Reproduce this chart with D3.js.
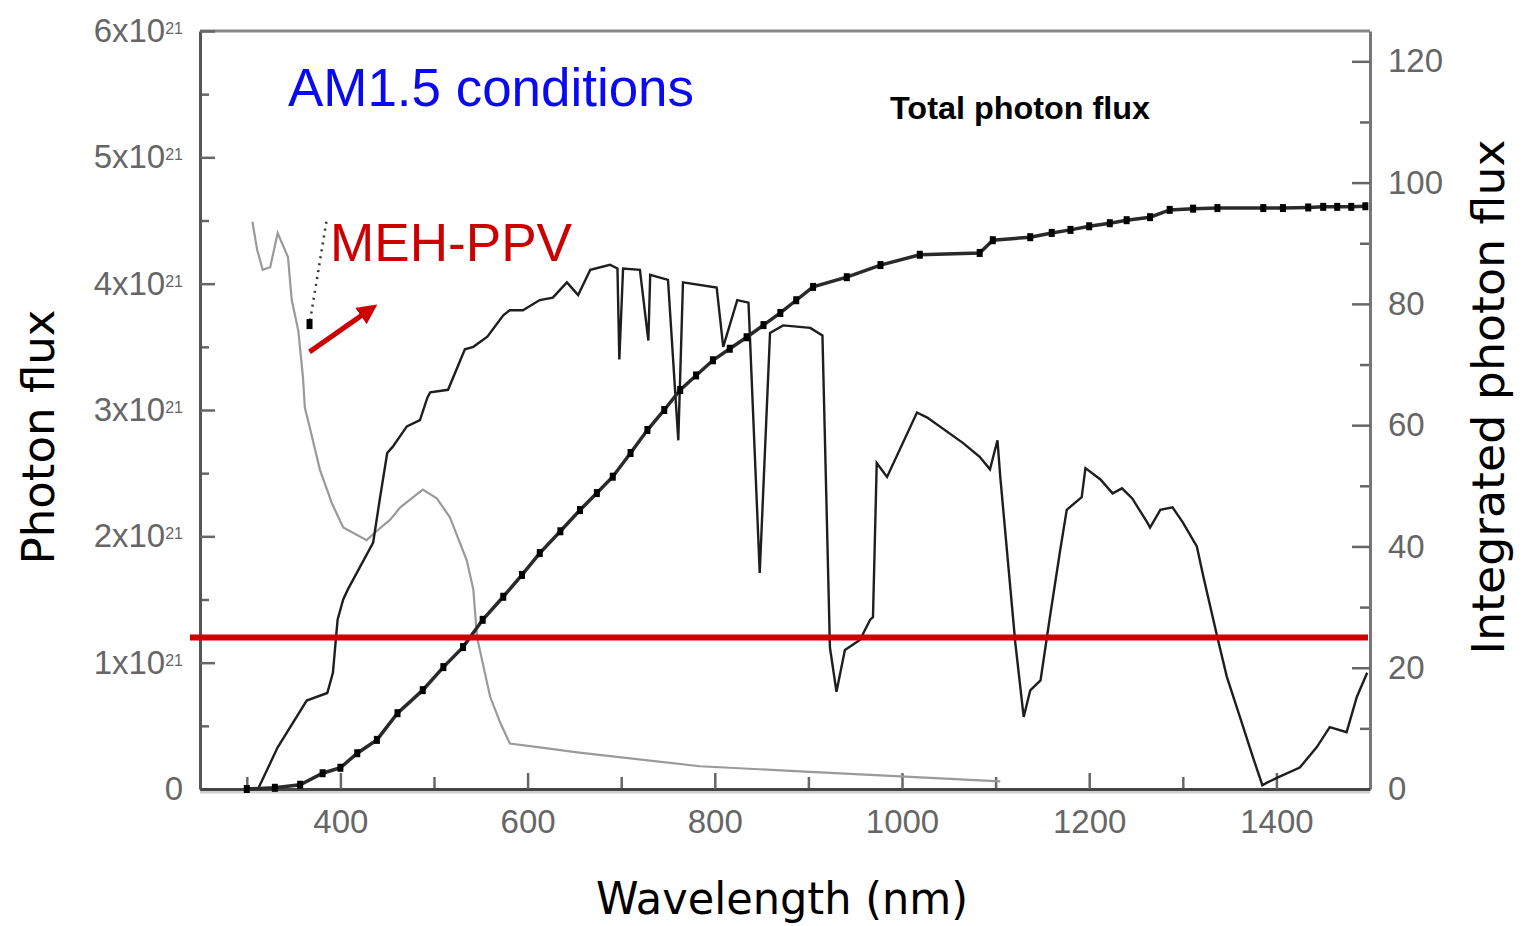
<html>
<head>
<meta http-equiv="Content-Type" content="text/html; charset=utf-8">
<title>AM1.5 photon flux</title>
<script src="https://d3js.org/d3.v7.min.js"></script>
<style>
body, html{
  margin: 0;
  background: white;
  overflow: hidden;
}
.tick text{
  font-family: "Liberation Sans", Arial, sans-serif;
  font-size: 33px;
  fill: #666;
}
.tick line{
  stroke: #666;
  stroke-width: 2.5;
}
.title{
  font-family: "DejaVu Sans", sans-serif;
  font-size: 44px;
  fill: black;
}
</style>
</head>
<body>
<div id="chart"></div>
<script type="text/javascript">

// tick values
var wavelengthTicks = [400, 600, 800, 1000, 1200, 1400]
var wavelengthMinor = [300, 500, 700, 900, 1100, 1300, 1500]
var fluxTicks = [0, 1, 2, 3, 4, 5, 6]          // x10^21
var fluxMinor = [0.5, 1.5, 2.5, 3.5, 4.5, 5.5]
var integratedTicks = [0, 20, 40, 60, 80, 100, 120]
var integratedMinor = [10, 30, 50, 70, 90, 110]

// AM1.5 spectrum, photon flux in units of 10^21
var am15Wavelength = [312, 333, 364, 386, 392, 397, 403, 408, 435, 442, 450, 456, 471, 485, 493, 496, 515, 533, 542, 557, 574, 581, 595, 613, 627, 642, 654, 667, 688, 696, 698, 702, 720, 729, 731, 750, 761, 766, 802, 809, 824, 836, 848, 859, 873, 902, 915, 923, 930, 939, 955, 966, 969, 973, 984, 1016, 1027, 1065, 1083, 1094, 1102, 1105, 1121, 1130, 1137, 1148, 1158, 1169, 1176, 1192, 1196, 1212, 1225, 1235, 1246, 1262, 1265, 1276, 1289, 1300, 1315, 1322, 1337, 1347, 1361, 1375, 1385, 1390, 1401, 1425, 1443, 1457, 1475, 1486, 1497]
var am15Flux = [0, 0.33, 0.70, 0.76, 0.92, 1.34, 1.50, 1.58, 1.95, 2.29, 2.66, 2.71, 2.87, 2.92, 3.10, 3.14, 3.16, 3.48, 3.50, 3.58, 3.75, 3.79, 3.79, 3.87, 3.89, 4.01, 3.91, 4.11, 4.15, 4.12, 3.40, 4.12, 4.11, 3.55, 4.07, 4.03, 2.76, 4.01, 3.97, 3.50, 3.87, 3.85, 1.71, 3.61, 3.67, 3.65, 3.59, 1.12, 0.77, 1.10, 1.18, 1.34, 1.36, 2.58, 2.47, 2.98, 2.94, 2.74, 2.63, 2.53, 2.76, 2.47, 1.16, 0.57, 0.78, 0.86, 1.36, 1.89, 2.21, 2.31, 2.54, 2.45, 2.34, 2.38, 2.30, 2.11, 2.07, 2.21, 2.23, 2.11, 1.92, 1.68, 1.20, 0.89, 0.57, 0.25, 0.03, 0.05, 0.09, 0.17, 0.33, 0.49, 0.45, 0.73, 0.92]

// MEH-PPV absorption (scaled to the left axis)
var mehWavelength = [306, 311, 317, 325, 333, 344, 348, 355, 360, 362, 368, 378, 391, 403, 428, 440, 453, 464, 488, 503, 517, 535, 542, 546, 560, 571, 581, 613, 653, 784, 891, 998, 1105]
var mehAbsorption = [4.49, 4.27, 4.11, 4.13, 4.40, 4.21, 3.87, 3.63, 3.26, 3.02, 2.84, 2.53, 2.26, 2.07, 1.97, 2.05, 2.13, 2.23, 2.37, 2.30, 2.15, 1.81, 1.58, 1.20, 0.73, 0.52, 0.36, 0.33, 0.29, 0.18, 0.14, 0.10, 0.06]

// dotted absorption-edge marker
var edgeWavelength = [385, 367]
var edgeFlux = [4.49, 3.68]

// integrated photon flux (right axis)
var integratedWavelength = [300, 330, 357, 381, 400, 418, 439, 461, 488, 510, 531, 552, 574, 594, 613, 635, 656, 674, 691, 710, 728, 746, 763, 780, 798, 816, 834, 852, 870, 887, 905, 941, 977, 1019, 1083, 1097, 1137, 1160, 1180, 1200, 1222, 1240, 1265, 1286, 1311, 1337, 1386, 1407, 1434, 1450, 1465, 1480, 1495]
var integratedFlux = [0, 0.2, 0.7, 2.6, 3.5, 5.9, 8.1, 12.5, 16.3, 20.1, 23.4, 27.9, 31.7, 35.3, 38.9, 42.5, 46.0, 48.8, 51.5, 55.4, 59.2, 62.5, 65.8, 68.2, 70.7, 72.6, 74.5, 76.5, 78.5, 80.6, 82.8, 84.4, 86.4, 88.1, 88.4, 90.5, 91.0, 91.7, 92.2, 92.8, 93.3, 93.8, 94.3, 95.5, 95.7, 95.8, 95.8, 95.8, 95.9, 96.0, 96.0, 96.0, 96.1]

// MEH-PPV threshold line and arrow (left-axis units)
var thresholdFlux = 1.2
var arrowFrom = [367, 3.46]
var arrowTo = [434, 3.81]

var W = 1522, H = 926
var margin = {left: 200, right: 1370, top: 31, bottom: 789}

var svg = d3.select("#chart").append("svg")
  .attr("width", W)
  .attr("height", H)

svg.append("rect").attr("width", W).attr("height", H).attr("fill", "white")

var x = d3.scaleLinear().domain([250, 1500]).range([margin.left, margin.right])
var yL = d3.scaleLinear().domain([0, 6]).range([margin.bottom, margin.top])
var yR = d3.scaleLinear().domain([0, 125]).range([margin.bottom, margin.top])

// frame
svg.append("line")
  .attr("x1", margin.left).attr("x2", margin.right)
  .attr("y1", margin.top).attr("y2", margin.top)
  .style("stroke", "#888").style("stroke-width", 3)
svg.append("line")
  .attr("x1", margin.left).attr("x2", margin.right)
  .attr("y1", margin.bottom + 3).attr("y2", margin.bottom + 3)
  .style("stroke", "#cfcfcf").style("stroke-width", 3)

// minor ticks
svg.append("g")
  .attr("transform", "translate(" + margin.left + ",0)")
  .call(d3.axisLeft(yL).tickValues(fluxMinor).tickSizeInner(-9).tickSizeOuter(0).tickFormat(""))
  .call(function(g){ g.select(".domain").remove() })
svg.append("g")
  .attr("transform", "translate(" + margin.right + ",0)")
  .call(d3.axisRight(yR).tickValues(integratedMinor).tickSizeInner(-10).tickSizeOuter(0).tickFormat(""))
  .call(function(g){ g.select(".domain").remove() })
svg.append("g")
  .attr("transform", "translate(0," + margin.bottom + ")")
  .call(d3.axisBottom(x).tickValues(wavelengthMinor).tickSizeInner(-12).tickSizeOuter(0).tickFormat(""))
  .call(function(g){ g.select(".domain").remove() })

// left axis
var leftAxis = svg.append("g")
  .attr("transform", "translate(" + margin.left + ",0)")
  .call(d3.axisLeft(yL).tickValues(fluxTicks).tickSizeInner(-15).tickSizeOuter(0).tickPadding(17)
    .tickFormat(function(d){ return d === 0 ? "0" : d + "x10" }))
leftAxis.select(".domain").style("stroke", "#555").style("stroke-width", 3)
leftAxis.selectAll(".tick text")
  .filter(function(d){ return d !== 0 })
  .append("tspan")
  .attr("dy", "-0.5em")
  .style("font-size", "16px")
  .text("21")

// right axis
var rightAxis = svg.append("g")
  .attr("transform", "translate(" + margin.right + ",0)")
  .call(d3.axisRight(yR).tickValues(integratedTicks).tickSizeInner(-18).tickSizeOuter(0).tickPadding(18))
rightAxis.select(".domain").style("stroke", "#777").style("stroke-width", 3)

// bottom axis
var bottomAxis = svg.append("g")
  .attr("transform", "translate(0," + margin.bottom + ")")
  .call(d3.axisBottom(x).tickValues(wavelengthTicks).tickSizeInner(-16).tickSizeOuter(0).tickPadding(21)
    .tickFormat(d3.format("d")))
bottomAxis.select(".domain").style("stroke", "#444").style("stroke-width", 3)

// curves
var lineL = d3.line()
  .x(function(d){ return x(d[0]) })
  .y(function(d){ return yL(d[1]) })
var lineR = d3.line()
  .x(function(d){ return x(d[0]) })
  .y(function(d){ return yR(d[1]) })

svg.append("path")
  .attr("d", lineL(d3.zip(mehWavelength, mehAbsorption)))
  .style("fill", "none").style("stroke", "#9a9a9a").style("stroke-width", 2.2)

svg.append("path")
  .attr("d", lineL(d3.zip(edgeWavelength, edgeFlux)))
  .style("fill", "none").style("stroke", "#333").style("stroke-width", 2.5)
  .style("stroke-dasharray", "2,5")
svg.append("rect")
  .attr("x", x(edgeWavelength[1]) - 3).attr("y", yL(edgeFlux[1]) - 5)
  .attr("width", 6).attr("height", 10).attr("fill", "black")

svg.append("path")
  .attr("d", lineL(d3.zip(am15Wavelength, am15Flux)))
  .style("fill", "none").style("stroke", "#1e1e1e").style("stroke-width", 2.4)

var integ = d3.zip(integratedWavelength, integratedFlux)
svg.append("path")
  .attr("d", lineR(integ))
  .style("fill", "none").style("stroke", "#2a2a2a").style("stroke-width", 3.5)
svg.selectAll(".dot")
  .data(integ)
  .enter().append("rect")
  .attr("class", "dot")
  .attr("x", function(d){ return x(d[0]) - 3 })
  .attr("y", function(d){ return yR(d[1]) - 4 })
  .attr("width", 6).attr("height", 8)
  .attr("fill", "black")

// threshold line
svg.append("line")
  .attr("x1", margin.left - 10).attr("x2", margin.right - 2)
  .attr("y1", yL(thresholdFlux)).attr("y2", yL(thresholdFlux))
  .style("stroke", "#cc0000").style("stroke-width", 6)

// arrow
svg.append("defs").append("marker")
  .attr("id", "head")
  .attr("viewBox", "0 0 10 10")
  .attr("refX", 2).attr("refY", 5)
  .attr("markerWidth", 4).attr("markerHeight", 4)
  .attr("orient", "auto")
  .append("path").attr("d", "M0,0 L10,5 L0,10 z").attr("fill", "#cc0000")
svg.append("line")
  .attr("x1", x(arrowFrom[0])).attr("y1", yL(arrowFrom[1]))
  .attr("x2", x(arrowTo[0]) - 8).attr("y2", yL(arrowTo[1]) + 6)
  .style("stroke", "#cc0000").style("stroke-width", 5)
  .attr("marker-end", "url(#head)")

// labels
svg.append("text")
  .attr("x", 288).attr("y", 106)
  .attr("textLength", 406).attr("lengthAdjust", "spacingAndGlyphs")
  .style("font-family", "Liberation Sans, Arial, sans-serif")
  .style("font-size", "53px").style("fill", "#0a0af0")
  .text("AM1.5 conditions")

svg.append("text")
  .attr("x", 890).attr("y", 119)
  .attr("textLength", 260).attr("lengthAdjust", "spacingAndGlyphs")
  .style("font-family", "Liberation Sans, Arial, sans-serif")
  .style("font-size", "31px").style("font-weight", "bold").style("fill", "black")
  .text("Total photon flux")

svg.append("text")
  .attr("x", 330).attr("y", 261)
  .attr("textLength", 242).attr("lengthAdjust", "spacingAndGlyphs")
  .style("font-family", "Liberation Sans, Arial, sans-serif")
  .style("font-size", "53px").style("fill", "#cc0000")
  .text("MEH-PPV")

svg.append("text")
  .attr("class", "title")
  .attr("transform", "translate(54,437) rotate(-90)")
  .attr("text-anchor", "middle")
  .attr("textLength", 255).attr("lengthAdjust", "spacingAndGlyphs")
  .text("Photon flux")

svg.append("text")
  .attr("class", "title")
  .attr("transform", "translate(1504,397) rotate(-90)")
  .attr("text-anchor", "middle")
  .attr("textLength", 515).attr("lengthAdjust", "spacingAndGlyphs")
  .text("Integrated photon flux")

svg.append("text")
  .attr("class", "title")
  .attr("x", 782).attr("y", 914)
  .attr("text-anchor", "middle")
  .attr("textLength", 372).attr("lengthAdjust", "spacingAndGlyphs")
  .text("Wavelength (nm)")

</script>
</body>
</html>
